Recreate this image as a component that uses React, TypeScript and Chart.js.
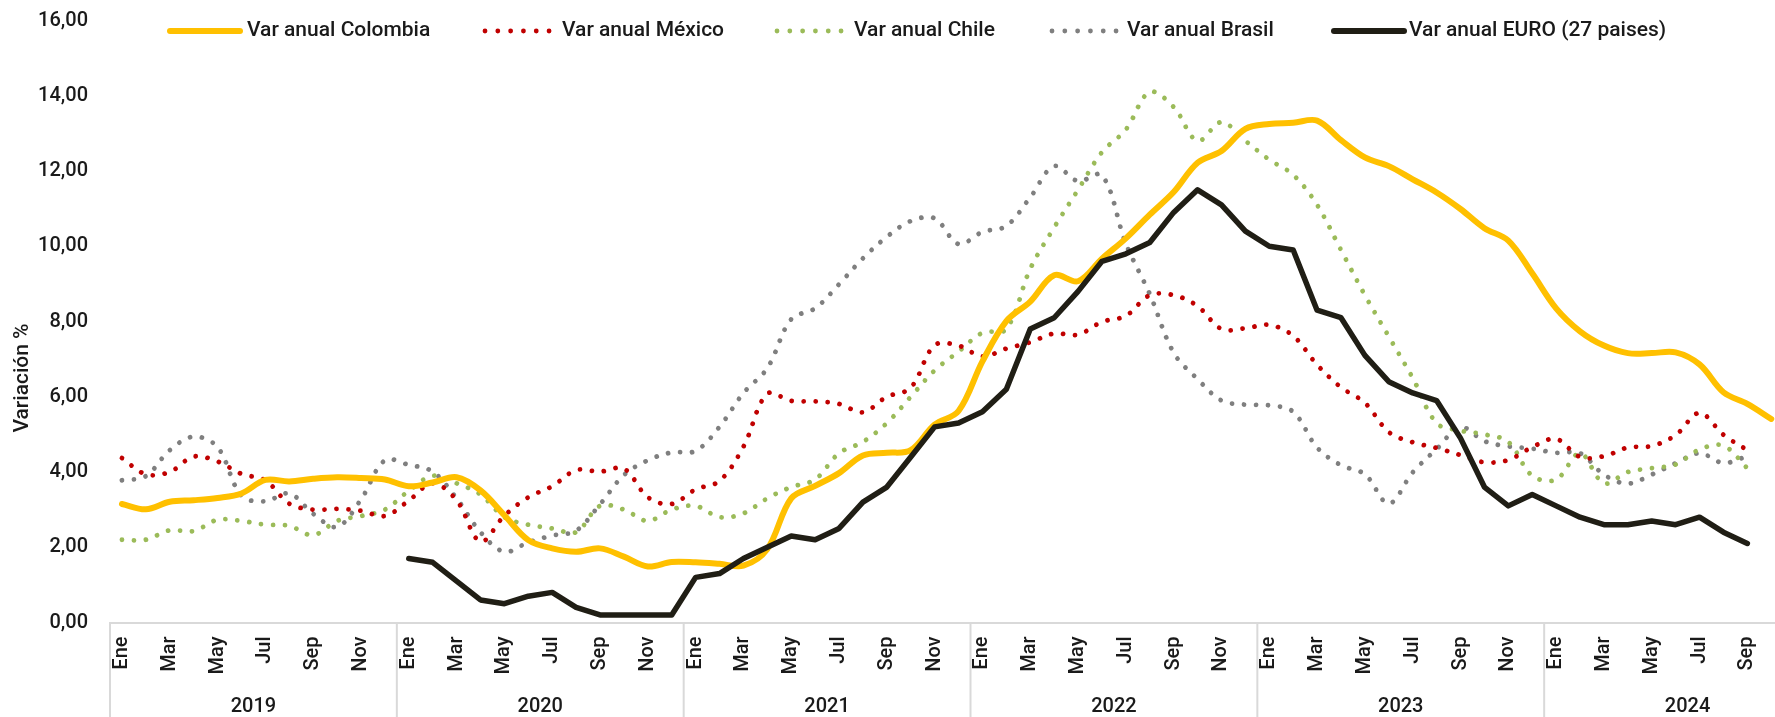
import React, { useEffect, useRef } from 'react';
import { Chart, registerables } from 'chart.js';

Chart.register(...registerables);

// ---- Data ----
const monthNames = ['Ene', 'Feb', 'Mar', 'Abr', 'May', 'Jun', 'Jul', 'Ago', 'Sep', 'Oct', 'Nov', 'Dic'];
const years = ['2019', '2020', '2021', '2022', '2023', '2024'];
const categories = years.flatMap((y) => monthNames.map((m) => `${m} ${y}`));

const colombia = [
  3.15, 3.01, 3.21, 3.25, 3.31, 3.43, 3.79, 3.75, 3.82, 3.86, 3.84, 3.8,
  3.62, 3.72, 3.86, 3.51, 2.85, 2.19, 1.97, 1.88, 1.97, 1.75, 1.49, 1.61,
  1.6, 1.56, 1.51, 1.95, 3.3, 3.63, 3.97, 4.44, 4.51, 4.58, 5.26, 5.62,
  6.94, 8.01, 8.53, 9.23, 9.07, 9.67, 10.21, 10.84, 11.44, 12.22, 12.53, 13.12,
  13.25, 13.28, 13.34, 12.82, 12.36, 12.13, 11.78, 11.43, 10.99, 10.48, 10.15, 9.28,
  8.35, 7.74, 7.36, 7.16, 7.16, 7.18, 6.86, 6.12, 5.81, 5.41,
];
const mexico = [
  4.37, 3.94, 4.0, 4.41, 4.28, 3.95, 3.78, 3.16, 3.0, 3.02, 2.97, 2.83,
  3.24, 3.7, 3.25, 2.15, 2.84, 3.33, 3.62, 4.05, 4.01, 4.09, 3.33, 3.15,
  3.54, 3.76, 4.67, 6.08, 5.89, 5.88, 5.81, 5.59, 6.0, 6.24, 7.37, 7.36,
  7.07, 7.28, 7.45, 7.68, 7.65, 7.99, 8.15, 8.7, 8.7, 8.41, 7.8, 7.82,
  7.91, 7.62, 6.85, 6.25, 5.84, 5.06, 4.79, 4.64, 4.45, 4.26, 4.32, 4.66,
  4.88, 4.4, 4.42, 4.65, 4.69, 4.98, 5.57, 4.99, 4.58,
];
const chile = [
  2.2, 2.2, 2.45, 2.43, 2.73, 2.7, 2.6, 2.57, 2.32, 2.7, 2.83, 3.0,
  3.5, 3.9, 3.7, 3.4, 2.8, 2.6, 2.5, 2.4, 3.1, 3.0, 2.7, 3.0,
  3.1, 2.8, 2.9, 3.3, 3.6, 3.8, 4.5, 4.8, 5.3, 6.0, 6.7, 7.2,
  7.7, 7.8, 9.4, 10.5, 11.5, 12.5, 13.1, 14.1, 13.7, 12.8, 13.3, 12.8,
  12.3, 11.9, 11.1, 9.9, 8.7, 7.6, 6.5, 5.3, 5.1, 5.0, 4.8, 3.9,
  3.8, 4.5, 3.7, 4.0, 4.1, 4.2, 4.6, 4.7, 4.1,
];
const brasil = [
  3.78, 3.89, 4.58, 4.94, 4.66, 3.37, 3.22, 3.43, 2.89, 2.54, 3.27, 4.31,
  4.19, 4.01, 3.3, 2.4, 1.88, 2.13, 2.31, 2.44, 3.14, 3.92, 4.31, 4.52,
  4.56, 5.2, 6.1, 6.76, 8.06, 8.35, 8.99, 9.68, 10.25, 10.67, 10.74, 10.06,
  10.38, 10.54, 11.3, 12.13, 11.73, 11.89, 10.07, 8.73, 7.17, 6.47, 5.9, 5.79,
  5.77, 5.6, 4.65, 4.18, 3.94, 3.16, 3.99, 4.61, 5.19, 4.82, 4.68, 4.62,
  4.51, 4.5, 3.93, 3.69, 3.93, 4.23, 4.5, 4.24, 4.42,
];
const euro = [
  null, null, null, null, null, null, null, null, null, null, null, null,
  1.7, 1.6, 1.1, 0.6, 0.5, 0.7, 0.8, 0.4, 0.2, 0.2, 0.2, 0.2,
  1.2, 1.3, 1.7, 2.0, 2.3, 2.2, 2.5, 3.2, 3.6, 4.4, 5.2, 5.3,
  5.6, 6.2, 7.8, 8.1, 8.8, 9.6, 9.8, 10.1, 10.9, 11.5, 11.1, 10.4,
  10.0, 9.9, 8.3, 8.1, 7.1, 6.4, 6.1, 5.9, 4.9, 3.6, 3.1, 3.4,
  3.1, 2.8, 2.6, 2.6, 2.7, 2.6, 2.8, 2.4, 2.1,
];

const seriesNames = [
  'Var anual Colombia',
  'Var anual México',
  'Var anual Chile',
  'Var anual Brasil',
  'Var anual EURO (27 paises)',
];
const yAxisTitle = 'Variación %';

// ---- Styles ----
const FONT = 'Roboto, "DejaVu Sans", sans-serif';
const TEXT = '#1a1a1a';
const COLORS = ['#FFC000', '#C00000', '#9BBB59', '#7F7F7F', '#201E15'];
const DOTTED = [false, true, true, true, false];
const legendX = [170, 485, 777, 1052, 1334];
const legendTextX = [247, 562, 854, 1127, 1409];

const decorPlugin = {
  id: 'decor',
  afterDraw(chart: any) {
    const ctx = chart.ctx as CanvasRenderingContext2D;
    const xs = chart.scales.x;
    const area = chart.chartArea;
    const w = xs.getPixelForValue(1) - xs.getPixelForValue(0);
    ctx.save();
    // year separators + labels
    ctx.strokeStyle = '#d9d9d9';
    ctx.lineWidth = 2;
    ctx.font = `500 20px ${FONT}`;
    ctx.fillStyle = TEXT;
    ctx.textAlign = 'center';
    ctx.textBaseline = 'middle';
    years.forEach((yr, k) => {
      const start = xs.getPixelForValue(k * 12) - w / 2;
      ctx.beginPath();
      ctx.moveTo(start, area.bottom);
      ctx.lineTo(start, chart.height);
      ctx.stroke();
      ctx.fillText(yr, start + 6 * w, 707);
    });
    const endX = xs.getPixelForValue(years.length * 12 - 1) + w / 2;
    ctx.beginPath();
    ctx.moveTo(endX, area.bottom);
    ctx.lineTo(endX, chart.height);
    ctx.stroke();

    // y axis title
    ctx.save();
    ctx.font = `500 21px ${FONT}`;
    ctx.translate(23, 378);
    ctx.rotate(-Math.PI / 2);
    ctx.fillText(yAxisTitle, 0, 0);
    ctx.restore();

    // legend
    const ly = 31;
    ctx.font = `500 21px ${FONT}`;
    seriesNames.forEach((name, i) => {
      const x0 = legendX[i];
      ctx.strokeStyle = COLORS[i];
      ctx.lineCap = 'round';
      if (DOTTED[i]) {
        ctx.lineWidth = 4.8;
        ctx.setLineDash([0.01, 12.8]);
        ctx.beginPath();
        ctx.moveTo(x0, ly);
        ctx.lineTo(x0 + 65, ly);
        ctx.stroke();
        ctx.setLineDash([]);
      } else {
        ctx.lineWidth = 6;
        ctx.beginPath();
        ctx.moveTo(x0, ly);
        ctx.lineTo(x0 + 70, ly);
        ctx.stroke();
      }
      ctx.fillStyle = TEXT;
      ctx.textAlign = 'left';
      ctx.fillText(name, legendTextX[i], ly);
    });
    ctx.restore();
  },
};

export default function App() {
  const ref = useRef<HTMLCanvasElement | null>(null);

  useEffect(() => {
    if (!ref.current) return;
    const seriesData = [colombia, mexico, chile, brasil, euro];
    const orders = [1, 2, 3, 4, 0];
    const chart = new Chart(ref.current, {
      type: 'line',
      data: {
        labels: categories,
        datasets: seriesData.map((d, i) => ({
          label: seriesNames[i],
          data: d as any,
          borderColor: COLORS[i],
          backgroundColor: COLORS[i],
          borderWidth: DOTTED[i] ? 4.8 : i === 0 ? 6 : 5.5,
          borderDash: DOTTED[i] ? [0.01, 12] : [],
          borderCapStyle: 'round' as const,
          borderJoinStyle: 'round' as const,
          tension: i === 4 ? 0 : 0.35,
          pointRadius: 0,
          fill: false,
          order: orders[i],
        })),
      },
      options: {
        responsive: true,
        maintainAspectRatio: false,
        animation: false,
        layout: { autoPadding: false, padding: { top: 20.5, right: 9, left: 0, bottom: 0 } },
        plugins: {
          legend: { display: false },
          tooltip: { enabled: false },
        },
        scales: {
          x: {
            type: 'category',
            offset: true,
            grid: { display: false, drawTicks: false },
            border: { display: true, color: '#d9d9d9', width: 2 },
            ticks: {
              autoSkip: false,
              maxRotation: 90,
              minRotation: 90,
              padding: 14,
              color: TEXT,
              font: { family: FONT, size: 20, weight: '500' as any },
              callback: (_v: any, idx: number) => (idx % 2 === 0 ? monthNames[idx % 12] : ''),
            },
            afterFit: (s: any) => {
              s.height = 94.5;
              s.paddingLeft = 0;
              s.paddingRight = 0;
              s.paddingTop = 0;
              s.paddingBottom = 0;
            },
          },
          y: {
            min: 0,
            max: 16,
            grid: { display: false, drawTicks: false },
            border: { display: false },
            ticks: {
              stepSize: 2,
              padding: 22,
              color: TEXT,
              font: { family: FONT, size: 20, weight: '500' as any },
              callback: (v: any) => Number(v).toFixed(2).replace('.', ','),
            },
            afterFit: (s: any) => {
              s.width = 110;
              s.paddingLeft = 0;
              s.paddingRight = 0;
              s.paddingTop = 0;
              s.paddingBottom = 0;
            },
          },
        },
      },
      plugins: [decorPlugin],
    });
    return () => chart.destroy();
  }, []);

  return (
    <div
      style={{
        position: 'fixed',
        left: 0,
        top: 0,
        width: '100vw',
        height: '100vh',
        overflow: 'hidden',
        background: '#ffffff',
      }}
    >
      <div style={{ position: 'relative', width: 1840, height: 717 }}>
        <canvas ref={ref} />
      </div>
    </div>
  );
}
